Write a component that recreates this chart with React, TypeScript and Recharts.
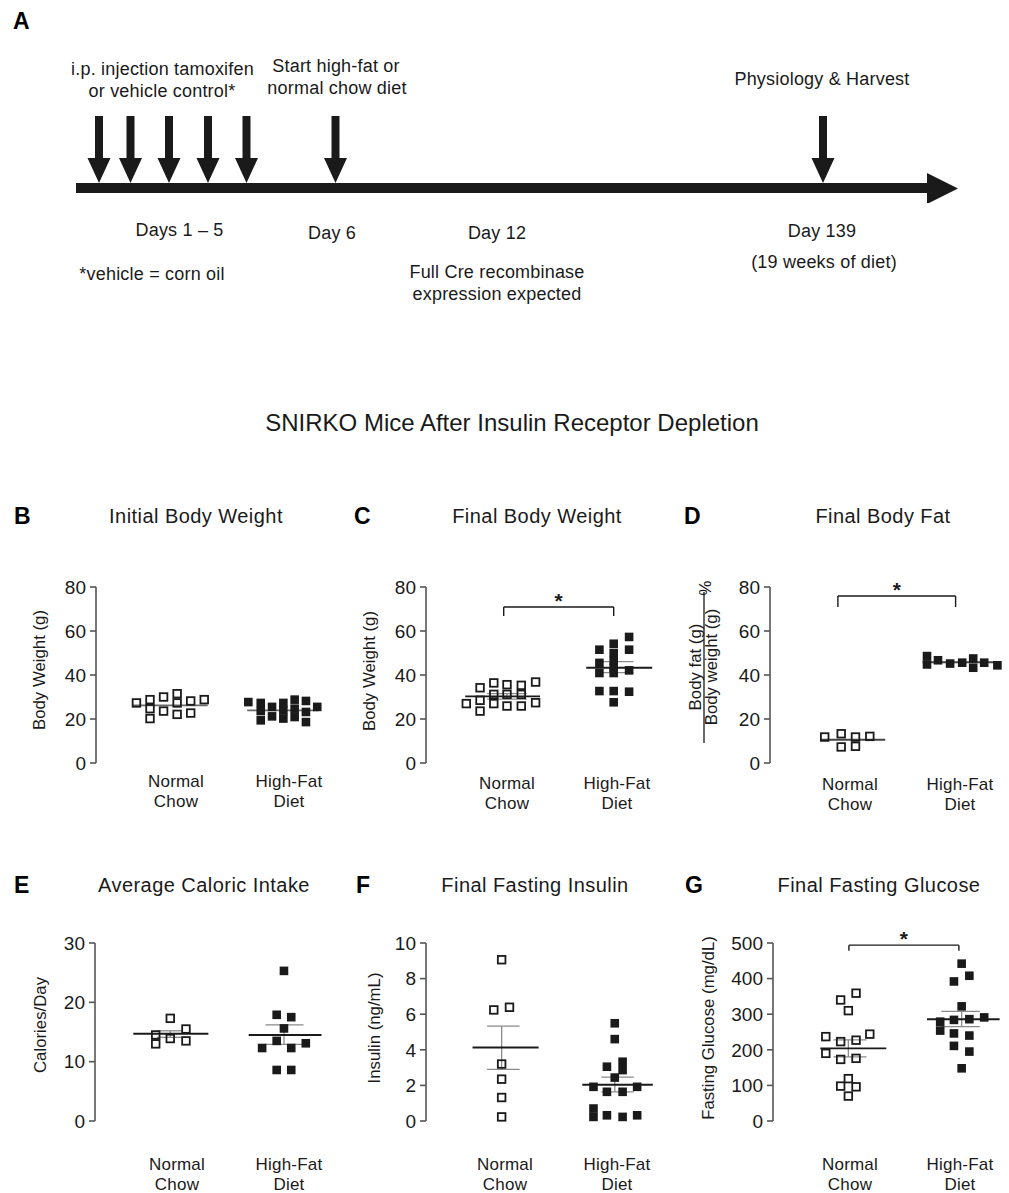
import React from "react";
import { ScatterChart, Scatter, XAxis, YAxis, ReferenceLine, ReferenceDot } from "recharts";

const FONT = '"Liberation Sans", Arial, Helvetica, sans-serif';
const INK = "#1a1a1a";
const AXIS = "#555";
const SEM = "#8a8a8a";

// ---------- panel A: timeline (x = schematic position along the arrow) ----------
const timelineEvents = [
  { day: 1, pos: 99, y: 0 },
  { day: 2, pos: 130.5, y: 0 },
  { day: 3, pos: 169, y: 0 },
  { day: 4, pos: 208, y: 0 },
  { day: 5, pos: 246.5, y: 0 },
  { day: 6, pos: 335.5, y: 0 },
  { day: 139, pos: 823, y: 0 },
];
const timelineStart = 76;
const timelineEnd = 958;

// ---------- dot plots ----------
const groupTicks = [1, 2];
const groupLabels = [
  ["Normal", "Chow"],
  ["High-Fat", "Diet"],
];

const initialChow = [
  { x: 0.65, y: 27.3 }, { x: 0.77, y: 28.8 }, { x: 0.77, y: 24.7 }, { x: 0.77, y: 20.2 },
  { x: 0.89, y: 30.0 }, { x: 0.89, y: 23.6 }, { x: 1.01, y: 31.5 }, { x: 1.01, y: 27.3 },
  { x: 1.01, y: 22.1 }, { x: 1.13, y: 28.2 }, { x: 1.13, y: 22.7 }, { x: 1.25, y: 28.8 },
];
const initialHfd = [
  { x: 1.64, y: 27.7 }, { x: 1.75, y: 27.3 }, { x: 1.75, y: 23.6 }, { x: 1.75, y: 19.4 },
  { x: 1.85, y: 25.5 }, { x: 1.85, y: 21.2 }, { x: 1.95, y: 27.3 }, { x: 1.95, y: 23.9 },
  { x: 1.95, y: 20.2 }, { x: 2.05, y: 28.8 }, { x: 2.05, y: 24.7 }, { x: 2.05, y: 20.9 },
  { x: 2.15, y: 28.2 }, { x: 2.15, y: 23.2 }, { x: 2.15, y: 18.6 }, { x: 2.25, y: 25.5 },
];
const initialSummary = [{ mean: 26.2 }, { mean: 23.9 }];

const finalWeightChow = [
  { x: 0.63, y: 27 }, { x: 0.755, y: 34.2 }, { x: 0.755, y: 28.5 }, { x: 0.755, y: 23.6 },
  { x: 0.88, y: 36.4 }, { x: 0.88, y: 31.2 }, { x: 0.88, y: 27 }, { x: 1.0, y: 35.6 },
  { x: 1.0, y: 31.2 }, { x: 1.0, y: 25.9 }, { x: 1.13, y: 35.3 }, { x: 1.13, y: 31.2 },
  { x: 1.13, y: 25.9 }, { x: 1.26, y: 36.8 }, { x: 1.26, y: 27.4 },
];
const finalWeightHfd = [
  { x: 1.84, y: 51.5 }, { x: 1.84, y: 45.5 }, { x: 1.84, y: 40.9 }, { x: 1.84, y: 32.7 },
  { x: 1.97, y: 54.2 }, { x: 1.97, y: 50 }, { x: 1.97, y: 46.4 }, { x: 1.97, y: 43.3 },
  { x: 1.97, y: 40.9 }, { x: 1.97, y: 32.7 }, { x: 1.97, y: 27.6 }, { x: 2.11, y: 57.3 },
  { x: 2.11, y: 51.5 }, { x: 2.11, y: 42.1 }, { x: 2.11, y: 32.4 },
];
const finalWeightSummary = [
  { mean: 30.3, lo: 29.0, hi: 31.5 },
  { mean: 43.3, lo: 41.1, hi: 46.1 },
];

const bodyFatChow = [
  { x: 0.77, y: 11.8 }, { x: 0.92, y: 13.3 }, { x: 0.92, y: 7.3 },
  { x: 1.05, y: 11.8 }, { x: 1.05, y: 7.6 }, { x: 1.18, y: 12.1 },
];
const bodyFatHfd = [
  { x: 1.7, y: 48.6 }, { x: 1.7, y: 44.8 }, { x: 1.8, y: 46.7 }, { x: 1.91, y: 45.2 },
  { x: 2.02, y: 45.6 }, { x: 2.12, y: 47.5 }, { x: 2.12, y: 43.3 }, { x: 2.22, y: 45.6 },
  { x: 2.34, y: 44.4 },
];
const bodyFatSummary = [{ mean: 10.6 }, { mean: 45.8 }];

const caloriesChow = [
  { x: 0.81, y: 13.0 }, { x: 0.81, y: 14.5 }, { x: 0.94, y: 17.3 },
  { x: 0.94, y: 13.9 }, { x: 1.08, y: 15.5 }, { x: 1.08, y: 13.5 },
];
const caloriesHfd = [
  { x: 1.76, y: 12.3 }, { x: 1.89, y: 17.9 }, { x: 1.89, y: 13.5 }, { x: 1.89, y: 8.6 },
  { x: 1.955, y: 25.3 }, { x: 1.955, y: 15.6 }, { x: 2.02, y: 17.5 }, { x: 2.02, y: 12.3 },
  { x: 2.02, y: 8.6 }, { x: 2.15, y: 13.1 },
];
const caloriesSummary = [
  { mean: 14.7, lo: 14.1, hi: 15.2 },
  { mean: 14.5, lo: 12.9, hi: 16.2 },
];

const insulinChow = [
  { x: 0.97, y: 9.06 }, { x: 0.9, y: 6.24 }, { x: 1.04, y: 6.39 }, { x: 0.97, y: 3.2 },
  { x: 0.97, y: 2.35 }, { x: 0.97, y: 1.32 }, { x: 0.97, y: 0.23 },
];
const insulinHfd = [
  { x: 1.79, y: 1.92 }, { x: 1.79, y: 0.7 }, { x: 1.79, y: 0.23 }, { x: 1.91, y: 3.05 },
  { x: 1.91, y: 1.64 }, { x: 1.91, y: 0.32 }, { x: 1.98, y: 5.49 }, { x: 1.98, y: 4.6 },
  { x: 1.98, y: 2.44 }, { x: 2.05, y: 3.33 }, { x: 2.05, y: 2.86 }, { x: 2.05, y: 1.64 },
  { x: 2.05, y: 0.23 }, { x: 2.18, y: 1.92 }, { x: 2.18, y: 0.32 },
];
const insulinSummary = [
  { mean: 4.13, lo: 2.9, hi: 5.33 },
  { mean: 2.04, lo: 1.64, hi: 2.46 },
];

const glucoseChow = [
  { x: 0.78, y: 190 }, { x: 0.78, y: 237 }, { x: 0.915, y: 340 }, { x: 0.915, y: 223 },
  { x: 0.915, y: 173 }, { x: 0.915, y: 98 }, { x: 0.985, y: 310 }, { x: 0.985, y: 119 },
  { x: 0.985, y: 70 }, { x: 1.055, y: 359 }, { x: 1.055, y: 227 }, { x: 1.055, y: 176 },
  { x: 1.055, y: 96 }, { x: 1.18, y: 244 },
];
const glucoseHfd = [
  { x: 2.015, y: 442 }, { x: 2.085, y: 408 }, { x: 1.945, y: 392 }, { x: 2.015, y: 322 },
  { x: 1.82, y: 279 }, { x: 1.945, y: 284 }, { x: 2.085, y: 286 }, { x: 2.22, y: 291 },
  { x: 1.82, y: 254 }, { x: 1.945, y: 246 }, { x: 2.085, y: 240 }, { x: 1.945, y: 211 },
  { x: 2.085, y: 195 }, { x: 2.015, y: 148 },
];
const glucoseSummary = [
  { mean: 204, lo: 180, hi: 228 },
  { mean: 286, lo: 265, hi: 308 },
];

// ---------- shapes ----------
const OpenSquare = (p: any) => (
  <rect x={p.cx - 3.8} y={p.cy - 3.8} width={7.6} height={7.6} fill="none" stroke={INK} strokeWidth={1.8} />
);
const FilledSquare = (p: any) => (
  <rect x={p.cx - 4.3} y={p.cy - 4.3} width={8.6} height={8.6} fill={INK} />
);
const DownArrow = (p: any) => {
  const { cx, cy } = p;
  const pts = [
    [cx - 4, cy - 67], [cx + 4, cy - 67], [cx + 4, cy - 25], [cx + 11.5, cy - 25],
    [cx, cy], [cx - 11.5, cy - 25], [cx - 4, cy - 25],
  ];
  return <polygon points={pts.map((q) => q.join(",")).join(" ")} fill={INK} />;
};
const ArrowHead = (p: any) => (
  <polygon points={`${p.cx},${p.cy} ${p.cx - 31},${p.cy - 15.5} ${p.cx - 31},${p.cy + 15.5}`} fill={INK} />
);
// asterisk glyph sits high in the em box, so push the baseline down to centre it on the point
const Star = (p: any) => (
  <text x={p.cx} y={p.cy + 11} textAnchor="middle" fontSize={21} fontWeight={700} fontFamily={FONT} fill={INK}>
    *
  </text>
);

const M_TOP = 55;
const Y_W = 90;

function DotPlot({ cfg }: { cfg: any }) {
  const { axisX, plotTop, plotBottom, c1, s, plotW, tickDy, xAxisH } = cfg.layout;
  const plotH = plotBottom - plotTop;
  const xMin = 1 - (c1 - axisX) / s;
  const xMax = xMin + plotW / s;
  const width = Y_W + plotW + 4;
  const height = M_TOP + plotH + xAxisH;
  const midY = M_TOP + plotH / 2;

  const GroupTick = (p: any) => {
    const lines = groupLabels[Math.round(p.payload.value) - 1];
    return (
      <text x={p.x} y={M_TOP + plotH + tickDy} textAnchor="middle" fontSize={17} letterSpacing={0.2} fontFamily={FONT} fill={INK}>
        {lines.map((l: string, i: number) => (
          <tspan key={l} x={p.x} dy={i ? 20 : 0}>
            {l}
          </tspan>
        ))}
      </text>
    );
  };

  const yLabel = () => {
    const lab = cfg.yLabel;
    const txt = (t: string, bx: number, cy: number, key?: string, size = 16.8) => (
      <text
        key={key}
        transform={`translate(${Y_W + bx},${cy}) rotate(-90)`}
        textAnchor="middle"
        fontSize={size}
        fontFamily={FONT}
        fill={INK}
      >
        {t}
      </text>
    );
    if (lab.fraction) {
      const cy = midY + lab.dy;
      return (
        <g>
          {txt(lab.top, lab.topX, cy, "n")}
          <line x1={Y_W + lab.lineX} x2={Y_W + lab.lineX} y1={cy - 75} y2={cy + 76} stroke={INK} strokeWidth={1.3} />
          {txt(lab.bottom, lab.bottomX, cy, "d")}
          {txt("%", lab.pctX, midY + lab.pctDy, "p")}
        </g>
      );
    }
    return txt(lab.text, lab.dx, midY + lab.dy);
  };

  const sums = cfg.summary;

  return (
    <div style={{ position: "absolute", left: axisX - Y_W, top: plotTop - M_TOP }}>
      <ScatterChart width={width} height={height} margin={{ top: M_TOP, right: 4, bottom: 0, left: 0 }}>
        <XAxis
          type="number"
          dataKey="x"
          domain={[xMin, xMax]}
          allowDataOverflow
          ticks={groupTicks}
          interval={0}
          axisLine={false}
          tickLine={false}
          height={xAxisH}
          tick={GroupTick}
        />
        <YAxis
          type="number"
          dataKey="y"
          domain={cfg.yDomain}
          ticks={cfg.yTicks}
          interval={0}
          width={Y_W}
          axisLine={{ stroke: AXIS, strokeWidth: 1.6 }}
          tickLine={{ stroke: AXIS, strokeWidth: 1.6 }}
          tickSize={6}
          tickMargin={4}
          tick={{ fontSize: 19, fill: INK, fontFamily: FONT }}
          label={yLabel}
        />
        <Scatter data={cfg.chow} shape={OpenSquare} isAnimationActive={false} />
        <Scatter data={cfg.hfd} shape={FilledSquare} isAnimationActive={false} />
        {sums.map((sm: any, i: number) =>
          sm.lo !== undefined ? (
            <React.Fragment key={"sem" + i}>
              <ReferenceLine
                segment={[{ x: cfg.semSpan[i][0], y: sm.hi }, { x: cfg.semSpan[i][1], y: sm.hi }]}
                stroke={SEM}
                strokeWidth={1.3}
                ifOverflow="visible"
              />
              <ReferenceLine
                segment={[{ x: cfg.semSpan[i][0], y: sm.lo }, { x: cfg.semSpan[i][1], y: sm.lo }]}
                stroke={SEM}
                strokeWidth={1.3}
                ifOverflow="visible"
              />
              <ReferenceLine
                segment={[{ x: cfg.semSpan[i][2], y: sm.lo }, { x: cfg.semSpan[i][2], y: sm.hi }]}
                stroke={SEM}
                strokeWidth={1.3}
                ifOverflow="visible"
              />
            </React.Fragment>
          ) : null
        )}
        {sums.map((sm: any, i: number) => (
          <ReferenceLine
            key={"mean" + i}
            segment={[{ x: cfg.meanSpan[i][0], y: sm.mean }, { x: cfg.meanSpan[i][1], y: sm.mean }]}
            stroke={cfg.meanColor}
            strokeWidth={1.9}
            ifOverflow="visible"
          />
        ))}
        {cfg.bracket && (
          <ReferenceLine
            segment={[{ x: cfg.bracket.x1, y: cfg.bracket.foot }, { x: cfg.bracket.x1, y: cfg.bracket.top }]}
            stroke={INK}
            strokeWidth={1.4}
            ifOverflow="visible"
          />
        )}
        {cfg.bracket && (
          <ReferenceLine
            segment={[{ x: cfg.bracket.x1, y: cfg.bracket.top }, { x: cfg.bracket.x2, y: cfg.bracket.top }]}
            stroke={INK}
            strokeWidth={1.4}
            ifOverflow="visible"
          />
        )}
        {cfg.bracket && (
          <ReferenceLine
            segment={[{ x: cfg.bracket.x2, y: cfg.bracket.foot }, { x: cfg.bracket.x2, y: cfg.bracket.top }]}
            stroke={INK}
            strokeWidth={1.4}
            ifOverflow="visible"
          />
        )}
        {cfg.bracket && (
          <ReferenceDot
            x={(cfg.bracket.x1 + cfg.bracket.x2) / 2}
            y={cfg.bracket.star}
            r={0}
            ifOverflow="visible"
            shape={Star}
          />
        )}
      </ScatterChart>
    </div>
  );
}

const panels = [
  {
    layout: { axisX: 96, plotTop: 587, plotBottom: 763, c1: 176, s: 113, plotW: 240, tickDy: 24, xAxisH: 62 },
    yDomain: [0, 80], yTicks: [0, 20, 40, 60, 80],
    chow: initialChow, hfd: initialHfd, summary: initialSummary,
    meanSpan: [[0.62, 1.28], [1.63, 2.26]], semSpan: [], meanColor: "#6a6a6a",
    yLabel: { text: "Body Weight (g)", dx: -51, dy: -5 },
  },
  {
    layout: { axisX: 426, plotTop: 587, plotBottom: 763, c1: 507, s: 110, plotW: 240, tickDy: 26, xAxisH: 62 },
    yDomain: [0, 80], yTicks: [0, 20, 40, 60, 80],
    chow: finalWeightChow, hfd: finalWeightHfd, summary: finalWeightSummary,
    meanSpan: [[0.62, 1.3], [1.72, 2.32]], semSpan: [[0.82, 1.18, 1.0], [1.81, 2.15, 1.98]], meanColor: INK,
    yLabel: { text: "Body Weight (g)", dx: -51, dy: -4 },
    bracket: { x1: 0.97, x2: 1.97, top: 70.9, foot: 66.8, star: 75.5 },
  },
  {
    layout: { axisX: 770, plotTop: 587, plotBottom: 763, c1: 850, s: 110, plotW: 236, tickDy: 27, xAxisH: 62 },
    yDomain: [0, 80], yTicks: [0, 20, 40, 60, 80],
    chow: bodyFatChow, hfd: bodyFatHfd, summary: bodyFatSummary,
    meanSpan: [[0.73, 1.32], [1.66, 2.36]], semSpan: [], meanColor: "#444",
    yLabel: {
      fraction: true, top: "Body fat (g)", bottom: "Body weight (g)",
      topX: -69, lineX: -66, bottomX: -53, dy: -8, pctX: -59, pctDy: -87,
    },
    bracket: { x1: 0.89, x2: 1.96, top: 75.9, foot: 70.9, star: 80.5 },
  },
  {
    layout: { axisX: 95, plotTop: 943, plotBottom: 1121, c1: 177, s: 112, plotW: 240, tickDy: 49, xAxisH: 72 },
    yDomain: [0, 30], yTicks: [0, 10, 20, 30],
    chow: caloriesChow, hfd: caloriesHfd, summary: caloriesSummary,
    meanSpan: [[0.61, 1.28], [1.64, 2.29]], semSpan: [[0.82, 1.05, 0.94], [1.79, 2.13, 1.955]], meanColor: INK,
    yLabel: { text: "Calories/Day", dx: -49, dy: -7 },
  },
  {
    layout: { axisX: 426, plotTop: 943, plotBottom: 1121, c1: 505, s: 112, plotW: 240, tickDy: 49, xAxisH: 72 },
    yDomain: [0, 10], yTicks: [0, 2, 4, 6, 8, 10],
    chow: insulinChow, hfd: insulinHfd, summary: insulinSummary,
    meanSpan: [[0.71, 1.3], [1.69, 2.32]], semSpan: [[0.84, 1.13, 0.97], [1.86, 2.15, 1.98]], meanColor: INK,
    yLabel: { text: "Insulin (ng/mL)", dx: -46, dy: -4 },
  },
  {
    layout: { axisX: 773, plotTop: 943, plotBottom: 1121, c1: 850, s: 110, plotW: 232, tickDy: 49, xAxisH: 72 },
    yDomain: [0, 500], yTicks: [0, 100, 200, 300, 400, 500],
    chow: glucoseChow, hfd: glucoseHfd, summary: glucoseSummary,
    meanSpan: [[0.73, 1.33], [1.7, 2.36]], semSpan: [[0.85, 1.15, 0.985], [1.83, 2.18, 2.015]], meanColor: INK,
    yLabel: { text: "Fasting Glucose (mg/dL)", dx: -59, dy: -4 },
    bracket: { x1: 0.99, x2: 1.99, top: 494, foot: 478, star: 522 },
  },
];

// figure-level text: [text, x, baseline y]
const letters: [string, number, number][] = [
  ["A", 13, 29], ["B", 14, 524], ["C", 354, 524], ["D", 684, 524],
  ["E", 14, 893], ["F", 356, 893], ["G", 685, 893],
];
const panelTitles: [string, number, number][] = [
  ["Initial Body Weight", 196, 523], ["Final Body Weight", 537, 523], ["Final Body Fat", 883, 523],
  ["Average Caloric Intake", 204, 892], ["Final Fasting Insulin", 535, 892], ["Final Fasting Glucose", 879, 892],
];
const timelineNotes: [string, number, number][] = [
  ["i.p. injection tamoxifen", 162.5, 75], ["or vehicle control*", 162, 97],
  ["Start high-fat or", 336, 72], ["normal chow diet", 337, 94],
  ["Physiology & Harvest", 822, 85],
  ["Days 1 \u2013 5", 179.5, 236], ["Day 6", 332, 239], ["Day 12", 497, 239], ["Day 139", 822, 237],
  ["*vehicle = corn oil", 152, 280], ["Full Cre recombinase", 497, 278], ["expression expected", 497, 300],
  ["(19 weeks of diet)", 824, 268],
];

export default function App() {
  return (
    <div
      style={{
        position: "absolute", left: 0, top: 0, width: 1009, height: 1193,
        background: "#fff", overflow: "hidden", fontFamily: FONT,
      }}
    >
      <div style={{ position: "absolute", left: 0, top: 63 }}>
        <ScatterChart width={1009} height={140} margin={{ top: 0, right: 0, bottom: 0, left: 0 }}>
          <XAxis type="number" dataKey="pos" domain={[0, 1009]} hide />
          <YAxis type="number" dataKey="y" domain={[-20, 120]} hide />
          <ReferenceLine
            segment={[{ x: timelineStart, y: -5 }, { x: timelineEnd - 28, y: -5 }]}
            stroke={INK}
            strokeWidth={10}
            ifOverflow="visible"
          />
          <ReferenceDot x={timelineEnd} y={-5.5} r={0} shape={ArrowHead} ifOverflow="visible" />
          <Scatter data={timelineEvents} shape={DownArrow} isAnimationActive={false} />
        </ScatterChart>
      </div>

      {panels.map((cfg, i) => (
        <DotPlot key={i} cfg={cfg} />
      ))}

      <svg
        width={1009}
        height={1193}
        style={{ position: "absolute", left: 0, top: 0, pointerEvents: "none" }}
        fontFamily={FONT}
      >
        {letters.map(([t, x, y]) => (
          <text key={t} x={x} y={y} fontSize={23} fontWeight={700} fill="#000">
            {t}
          </text>
        ))}
        {timelineNotes.map(([t, x, y]) => (
          <text key={t} x={x} y={y} fontSize={18} letterSpacing={0.2} textAnchor="middle" fill={INK}>
            {t}
          </text>
        ))}
        <text x={512} y={431} fontSize={24} textAnchor="middle" fill={INK}>
          SNIRKO Mice After Insulin Receptor Depletion
        </text>
        {panelTitles.map(([t, x, y]) => (
          <text key={t} x={x} y={y} fontSize={20} letterSpacing={0.45} textAnchor="middle" fill={INK}>
            {t}
          </text>
        ))}
      </svg>
    </div>
  );
}
